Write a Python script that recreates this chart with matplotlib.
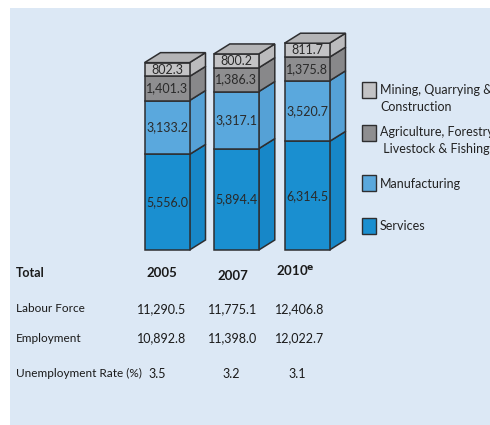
import matplotlib
matplotlib.use("Agg")
import matplotlib.pyplot as plt
from matplotlib.patches import Rectangle, Polygon

plt.rcParams['font.family'] = ['Lato', 'DejaVu Sans']

# employment by sector ('000 persons)
years = ["2005", "2007", "2010"]
services = [5556.0, 5894.4, 6314.5]
manufacturing = [3133.2, 3317.1, 3520.7]
agriculture = [1401.3, 1386.3, 1375.8]
mining = [802.3, 800.2, 811.7]

sector_names = ["Services", "Manufacturing",
                "Agriculture, Forestry\n Livestock & Fishing",
                "Mining, Quarrying &\nConstruction"]

# summary table
row_names = ["Labour Force", "Employment", "Unemployment Rate (%)"]
labour_force = ["11,290.5", "11,775.1", "12,406.8"]
employment = ["10,892.8", "11,398.0", "12,022.7"]
unemployment = ["3.5", "3.2", "3.1"]

front_colors = ["#1a8fd0", "#5aa8dd", "#8e8e90", "#c3c3c5"]
side_colors = ["#1787c8", "#55a1d6", "#88888a", "#bbbbbd"]
top_color = "#b4b4b6"
edge = "#2e2e30"
bg = "#dce8f5"

W, H = 490, 425
fig = plt.figure(figsize=(W / 100, H / 100), dpi=100)
fig.patch.set_facecolor("white")

# light blue panel behind everything
fig.patches.append(Rectangle((10 / W, 0), 1, 1 - 8 / H, transform=fig.transFigure,
                             facecolor=bg, edgecolor="none", zorder=-10))

ax = fig.add_axes([62 / W, (H - 250) / H, 280 / W, 223.6 / H])
ax.set_xlim(-1.5, 2.5)
ax.set_ylim(0, 13000)
ax.axis("off")
ax.patch.set_alpha(0)

px_x = 4 / 280          # data units per pixel, x
px_y = 13000 / 223.6    # data units per pixel, y
dx, dy = 16 * px_x, 10 * px_y
bw = 45 * px_x
xpos = [0, 0.99, 2.0]

series = [services, manufacturing, agriculture, mining]
for i, x in enumerate(xpos):
    bottom = 0
    x0, x1 = x - bw / 2, x + bw / 2
    for s, vals in enumerate(series):
        v = vals[i]
        ax.bar(x, v, width=bw, bottom=bottom, color=front_colors[s],
               edgecolor=edge, linewidth=1.1, zorder=3, clip_on=False)
        side = Polygon([(x1, bottom), (x1 + dx, bottom + dy),
                        (x1 + dx, bottom + v + dy), (x1, bottom + v)],
                       closed=True, facecolor=side_colors[s], edgecolor=edge,
                       linewidth=1.1, zorder=2, clip_on=False)
        ax.add_patch(side)
        ax.text(x, bottom + v / 2, f"{v:,.1f}", ha="center", va="center",
                fontsize=9, color="#2a2a2a", zorder=5)
        bottom += v
    top = Polygon([(x0, bottom), (x0 + dx, bottom + dy),
                   (x1 + dx, bottom + dy), (x1, bottom)],
                  closed=True, facecolor=top_color, edgecolor=edge,
                  linewidth=1.1, zorder=4, clip_on=False)
    ax.add_patch(top)


def fx(px):
    return px / W


def fy(py):
    return 1 - py / H


# legend, top item first
legend_items = [(3, 82, 90), (2, 124.5, 132), (1, 174.5, 183.5), (0, 218, 225.5)]
for s, sq_top, ty in legend_items:
    fig.patches.append(Rectangle((fx(362), fy(sq_top + 16)), 13.5 / W, 16 / H,
                                 transform=fig.transFigure, facecolor=front_colors[s],
                                 edgecolor=edge, linewidth=1.0, zorder=3))
    lines = sector_names[s].split("\n")
    for k, line in enumerate(lines):
        fig.text(fx(380), fy(ty + k * 17), line, ha="left", va="center",
                 fontsize=9, color="#222222")

# table below the bars
col_x = [162, 233, 300]
fig.text(fx(16), fy(273), "Total", ha="left", va="center", fontsize=9,
         fontweight="bold", color="#1a1a1a")
year_y = [273, 275.5, 270]
for c, yr in enumerate(years):
    label = yr if c < 2 else yr + "$^{\\mathbf{e}}$"
    fig.text(fx(col_x[c] - (5 if c == 2 else 0)), fy(year_y[c]), label, ha="center",
             va="center", fontsize=9.5, fontweight="bold", color="#1a1a1a")

row_y = [309, 338.5, 373]
rows = [labour_force, employment, unemployment]
for r, name in enumerate(row_names):
    fig.text(fx(16), fy(row_y[r]), name, ha="left", va="center", fontsize=8.5,
             color="#1a1a1a")
    for c, val in enumerate(rows[r]):
        cx = col_x[c] if r < 2 else [157.5, 231, 297.5][c]
        cy = row_y[r] + (1 if r == 2 else 0)
        fig.text(fx(cx), fy(cy), val, ha="center", va="center", fontsize=9,
                 color="#1a1a1a")

fig.savefig("out.png", dpi=100, facecolor=fig.get_facecolor())
